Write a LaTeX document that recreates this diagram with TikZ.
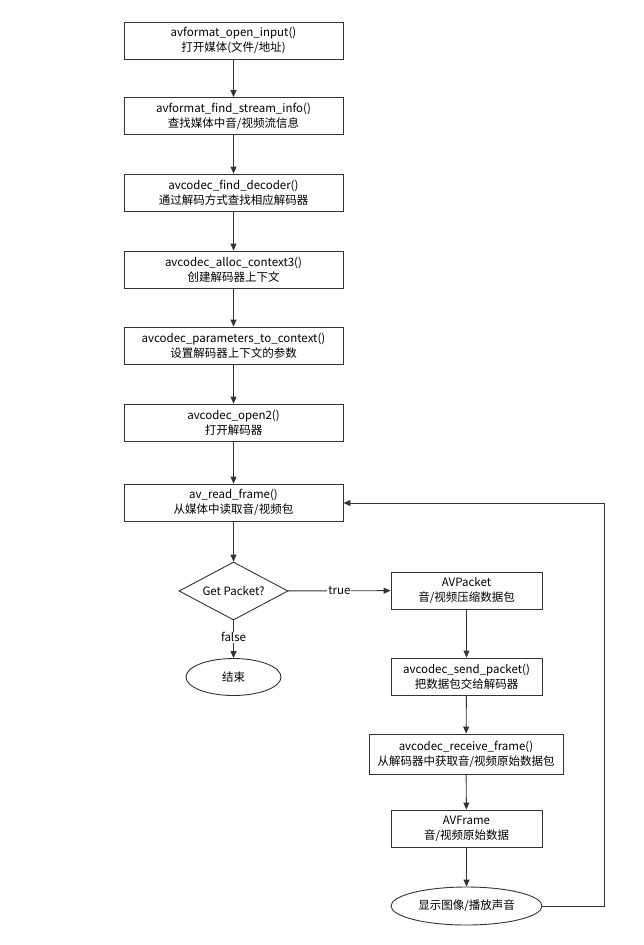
\documentclass[tikz,border=0pt]{standalone}
\usepackage{fontspec}
\setmainfont{Noto Sans CJK SC}
\usetikzlibrary{shapes.geometric,arrows.meta}
\definecolor{ln}{HTML}{333333}
\begin{document}
\begin{tikzpicture}[x=1pt,y=-1pt,
  every node/.style={font=\fontsize{11.5pt}{15pt}\selectfont, text=black, align=center, inner sep=0pt},
  box/.style={draw=ln, line width=0.9pt, minimum height=37pt},
  oval/.style={ellipse, draw=ln, line width=0.9pt, minimum height=37pt},
  dia/.style={diamond, draw=ln, line width=0.9pt, minimum width=109pt, minimum height=58pt, aspect=1.9},
  arr/.style={draw=ln, line width=0.9pt, -{Triangle[length=7pt,width=6pt]}},
  lab/.style={fill=white, inner sep=1pt}]
\useasboundingbox (0,0) rectangle (644,945);
\fill[white] (0,0) rectangle (644,945);
\node[box, minimum width=219pt] (b1) at (233.5,40.5) {avformat\_open\_input()\\打开媒体(文件/地址)};
\node[box, minimum width=219pt] (b2) at (233.5,116) {avformat\_find\_stream\_info()\\查找媒体中音/视频流信息};
\node[box, minimum width=219pt] (b3) at (233.5,192.5) {avcodec\_find\_decoder()\\通过解码方式查找相应解码器};
\node[box, minimum width=219pt] (b4) at (233.5,269.5) {avcodec\_alloc\_context3()\\创建解码器上下文};
\node[box, minimum width=219pt] (b5) at (233.5,345.5) {avcodec\_parameters\_to\_context()\\设置解码器上下文的参数};
\node[box, minimum width=219pt] (b6) at (233.5,422.5) {avcodec\_open2()\\打开解码器};
\node[box, minimum width=219pt] (b7) at (233.5,502.5) {av\_read\_frame()\\从媒体中读取音/视频包};
\node[dia] (d) at (233.5,591) {Get Packet?};
\node[oval, minimum width=95pt] (end) at (233.5,677) {结束};
\node[box, minimum width=151pt] (p1) at (466.5,590.5) {AVPacket\\音/视频压缩数据包};
\node[box, minimum width=151pt] (p2) at (466.5,676.5) {avcodec\_send\_packet()\\把数据包交给解码器};
\node[box, minimum width=194pt, minimum height=40pt] (p3) at (466,754) {avcodec\_receive\_frame()\\从解码器中获取音/视频原始数据包};
\node[box, minimum width=151pt] (p4) at (466.5,828.5) {AVFrame\\音/视频原始数据};
\node[oval, minimum width=151pt, minimum height=38pt] (show) at (466.5,906) {显示图像/播放声音};
\coordinate (c1) at (604,906);
\coordinate (c2) at (604,503);
\draw[arr] (b1) -- (b2);
\draw[arr] (b2) -- (b3);
\draw[arr] (b3) -- (b4);
\draw[arr] (b4) -- (b5);
\draw[arr] (b5) -- (b6);
\draw[arr] (b6) -- (b7);
\draw[arr] (b7) -- (d);
\draw[arr] (d) -- node[lab, pos=0.5] {true} (p1);
\draw[arr] (d) -- node[lab, pos=0.45] {false} (end);
\draw[arr] (p1) -- (p2);
\draw[arr] (p2) -- (p3);
\draw[arr] (p3) -- (p4);
\draw[arr] (p4) -- (show);
\draw[arr] (show.east) -- (c1) -- (c2) -- (b7.east |- c2);
\end{tikzpicture}
\end{document}
